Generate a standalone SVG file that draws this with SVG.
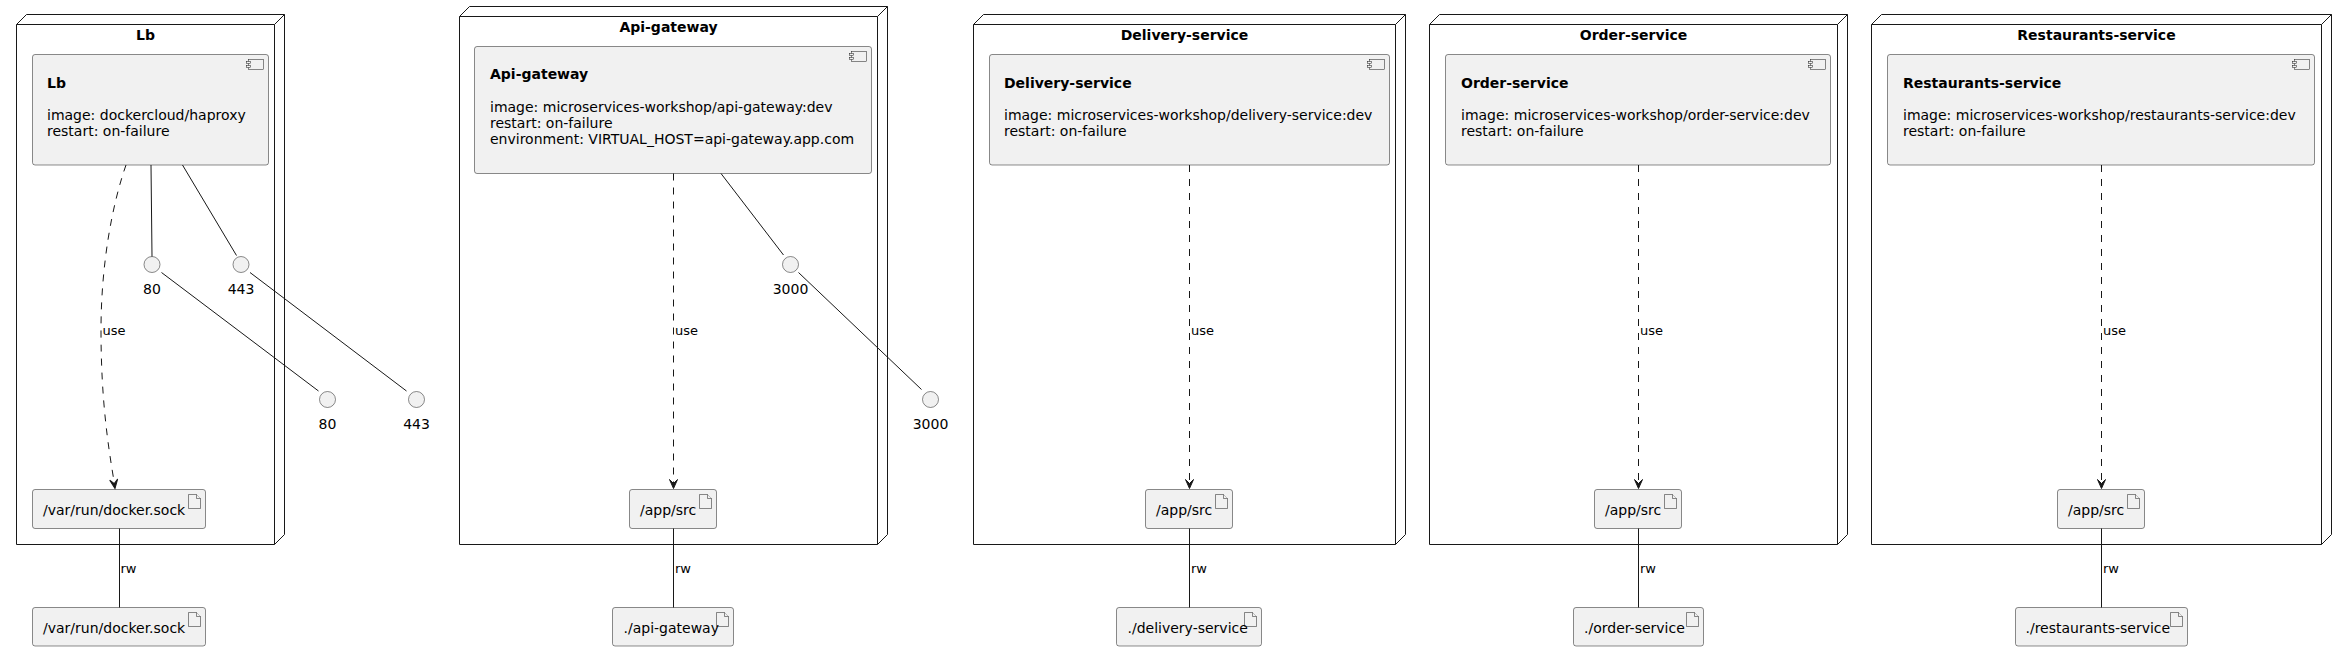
<svg xmlns="http://www.w3.org/2000/svg" width="2347" height="651" viewBox="0 0 2347 651">
<style>
text{font-family:"DejaVu Sans","Liberation Sans",sans-serif;fill:#000}
.t{font-size:14px}
.b{font-size:14px;font-weight:bold}
.lbl{font-size:13px}
.mid{text-anchor:middle}
.node{fill:none;stroke:#181818;stroke-width:1}
.comp{fill:#F1F1F1;stroke:#181818;stroke-width:0.5}
.icon{fill:#F1F1F1;stroke:#181818;stroke-width:0.5}
.art{fill:#F1F1F1;stroke:#181818;stroke-width:0.5}
.ifc{fill:#F1F1F1;stroke:#181818;stroke-width:0.5}
.ln{fill:none;stroke:#181818;stroke-width:1}
.dash{fill:none;stroke:#181818;stroke-width:1;stroke-dasharray:7,7}
.ah{fill:#181818;stroke:#181818;stroke-width:1}
</style>
<defs>
<g id="cicon"><rect class="icon" x="0" y="0" width="15" height="10"/><rect class="icon" x="-2" y="2" width="4" height="2"/><rect class="icon" x="-2" y="6" width="4" height="2"/></g>
<g id="aicon"><path class="icon" d="M0,0 L8,0 L12,4 L12,14 L0,14 Z"/><path class="icon" fill="none" d="M8,0 L8,4 L12,4"/></g>
</defs>

<g id="node-lb">
<polygon class="node" points="16.5,24.5 26.5,14.5 284.5,14.5 284.5,534.5 274.5,544.5 16.5,544.5"/>
<path class="node" d="M16.5,24.5 L274.5,24.5 L284.5,14.5 M274.5,24.5 L274.5,544.5"/>
<text class="b mid" x="145.5" y="39.5">Lb</text>
</g>
<g id="comp-lb">
<rect class="comp" x="32.5" y="54.5" width="236" height="110.5" rx="2.5"/>
<use href="#cicon" x="248.5" y="59.5"/>
<text class="b" x="47" y="87.5">Lb</text>
<text class="t" x="47" y="120">image: dockercloud/haproxy</text>
<text class="t" x="47" y="136">restart: on-failure</text>
</g>
<g id="if-lb-80"><circle class="ifc" cx="152" cy="264.5" r="8"/><text class="t mid" x="152" y="293.5">80</text></g>
<g id="if-lb-443"><circle class="ifc" cx="241" cy="264.5" r="8"/><text class="t mid" x="241" y="293.5">443</text></g>
<g id="if-80"><circle class="ifc" cx="327.5" cy="399.5" r="8"/><text class="t mid" x="327.5" y="428.5">80</text></g>
<g id="if-443"><circle class="ifc" cx="416.5" cy="399.5" r="8"/><text class="t mid" x="416.5" y="428.5">443</text></g>
<g id="art-lb-sock">
<rect class="art" x="32.5" y="489.5" width="173" height="39" rx="2.5"/>
<use href="#aicon" x="188.5" y="494.5"/>
<text class="t" x="43" y="515">/var/run/docker.sock</text>
</g>
<g id="art-host-sock">
<rect class="art" x="32.5" y="607.5" width="173" height="38.5" rx="2.5"/>
<use href="#aicon" x="188.5" y="612.5"/>
<text class="t" x="43" y="633">/var/run/docker.sock</text>
</g>

<g id="node-api">
<polygon class="node" points="459.5,16.5 469.5,6.5 887.5,6.5 887.5,534.5 877.5,544.5 459.5,544.5"/>
<path class="node" d="M459.5,16.5 L877.5,16.5 L887.5,6.5 M877.5,16.5 L877.5,544.5"/>
<text class="b mid" x="668.5" y="31.5">Api-gateway</text>
</g>
<g id="comp-api">
<rect class="comp" x="474.5" y="46.5" width="397" height="127" rx="2.5"/>
<use href="#cicon" x="851.5" y="51.5"/>
<text class="b" x="490" y="78.5">Api-gateway</text>
<text class="t" x="490" y="111.5">image: microservices-workshop/api-gateway:dev</text>
<text class="t" x="490" y="127.5">restart: on-failure</text>
<text class="t" x="490" y="143.5">environment: VIRTUAL_HOST=api-gateway.app.com</text>
</g>
<g id="if-api-3000"><circle class="ifc" cx="790.5" cy="264.5" r="8"/><text class="t mid" x="790.5" y="293.5">3000</text></g>
<g id="if-3000"><circle class="ifc" cx="930.5" cy="399.5" r="8"/><text class="t mid" x="930.5" y="428.5">3000</text></g>
<g id="art-api-src">
<rect class="art" x="629.5" y="489.5" width="87" height="39" rx="2.5"/>
<use href="#aicon" x="699.5" y="494.5"/>
<text class="t" x="640" y="515">/app/src</text>
</g>
<g id="art-api-host">
<rect class="art" x="612.5" y="607.5" width="121" height="38.5" rx="2.5"/>
<use href="#aicon" x="716.5" y="612.5"/>
<text class="t" x="623.5" y="633">./api-gateway</text>
</g>

<g id="node-delivery">
<polygon class="node" points="973.5,24.5 983.5,14.5 1405.5,14.5 1405.5,534.5 1395.5,544.5 973.5,544.5"/>
<path class="node" d="M973.5,24.5 L1395.5,24.5 L1405.5,14.5 M1395.5,24.5 L1395.5,544.5"/>
<text class="b mid" x="1184.5" y="39.5">Delivery-service</text>
</g>
<g id="comp-delivery">
<rect class="comp" x="989.5" y="54.5" width="400" height="110.5" rx="2.5"/>
<use href="#cicon" x="1369.5" y="59.5"/>
<text class="b" x="1004" y="87.5">Delivery-service</text>
<text class="t" x="1004" y="120">image: microservices-workshop/delivery-service:dev</text>
<text class="t" x="1004" y="136">restart: on-failure</text>
</g>
<g id="art-delivery-src">
<rect class="art" x="1145.5" y="489.5" width="87" height="39" rx="2.5"/>
<use href="#aicon" x="1215.5" y="494.5"/>
<text class="t" x="1156" y="515">/app/src</text>
</g>
<g id="art-delivery-host">
<rect class="art" x="1116.5" y="607.5" width="145" height="38.5" rx="2.5"/>
<use href="#aicon" x="1244.5" y="612.5"/>
<text class="t" x="1127.5" y="633">./delivery-service</text>
</g>

<g id="node-order">
<polygon class="node" points="1429.5,24.5 1439.5,14.5 1847.5,14.5 1847.5,534.5 1837.5,544.5 1429.5,544.5"/>
<path class="node" d="M1429.5,24.5 L1837.5,24.5 L1847.5,14.5 M1837.5,24.5 L1837.5,544.5"/>
<text class="b mid" x="1633.5" y="39.5">Order-service</text>
</g>
<g id="comp-order">
<rect class="comp" x="1445.5" y="54.5" width="385" height="110.5" rx="2.5"/>
<use href="#cicon" x="1810.5" y="59.5"/>
<text class="b" x="1461" y="87.5">Order-service</text>
<text class="t" x="1461" y="120">image: microservices-workshop/order-service:dev</text>
<text class="t" x="1461" y="136">restart: on-failure</text>
</g>
<g id="art-order-src">
<rect class="art" x="1594.5" y="489.5" width="87" height="39" rx="2.5"/>
<use href="#aicon" x="1664.5" y="494.5"/>
<text class="t" x="1605" y="515">/app/src</text>
</g>
<g id="art-order-host">
<rect class="art" x="1573.5" y="607.5" width="130" height="38.5" rx="2.5"/>
<use href="#aicon" x="1686.5" y="612.5"/>
<text class="t" x="1584" y="633">./order-service</text>
</g>

<g id="node-restaurants">
<polygon class="node" points="1871.5,24.5 1881.5,14.5 2331.5,14.5 2331.5,534.5 2321.5,544.5 1871.5,544.5"/>
<path class="node" d="M1871.5,24.5 L2321.5,24.5 L2331.5,14.5 M2321.5,24.5 L2321.5,544.5"/>
<text class="b mid" x="2096.5" y="39.5">Restaurants-service</text>
</g>
<g id="comp-restaurants">
<rect class="comp" x="1887.5" y="54.5" width="427" height="110.5" rx="2.5"/>
<use href="#cicon" x="2294.5" y="59.5"/>
<text class="b" x="1903" y="87.5">Restaurants-service</text>
<text class="t" x="1903" y="120">image: microservices-workshop/restaurants-service:dev</text>
<text class="t" x="1903" y="136">restart: on-failure</text>
</g>
<g id="art-restaurants-src">
<rect class="art" x="2057.5" y="489.5" width="87" height="39" rx="2.5"/>
<use href="#aicon" x="2127.5" y="494.5"/>
<text class="t" x="2068" y="515">/app/src</text>
</g>
<g id="art-restaurants-host">
<rect class="art" x="2015.5" y="607.5" width="172" height="38.5" rx="2.5"/>
<use href="#aicon" x="2170.5" y="612.5"/>
<text class="t" x="2025.5" y="633">./restaurants-service</text>
</g>

<g id="connectors">
<!-- Lb -->
<path class="ln" d="M151,165 L152,256.5"/>
<path class="ln" d="M182.5,165 L236.5,255.5"/>
<path class="ln" d="M161.5,272.5 L318.5,391"/>
<path class="ln" d="M250,272.5 L406.5,391"/>
<path class="dash" d="M126,165 C112,205 101,265 101,330 C101,400 108,445 114.3,483"/>
<polygon class="ah" points="111,479.5 115,488.5 119,479.5 115,483.5" transform="rotate(-8.5 115 488.5)"/>
<text class="lbl" x="102.5" y="335">use</text>
<path class="ln" d="M119.5,528.5 L119.5,607.5"/>
<text class="lbl" x="120.5" y="572.5">rw</text>
<!-- Api -->
<path class="ln" d="M721,173.5 L783.5,255"/>
<path class="ln" d="M798.5,272.5 L921.5,389.5"/>
<path class="dash" d="M673.5,173.5 L673.5,483.5"/>
<polygon class="ah" points="669.5,479.5 673.5,488.5 677.5,479.5 673.5,483.5"/>
<text class="lbl" x="675" y="335">use</text>
<path class="ln" d="M673.5,528.5 L673.5,607.5"/>
<text class="lbl" x="675" y="572.5">rw</text>
<!-- Delivery -->
<path class="dash" d="M1189.5,165 L1189.5,483.5"/>
<polygon class="ah" points="1185.5,479.5 1189.5,488.5 1193.5,479.5 1189.5,483.5"/>
<text class="lbl" x="1191" y="335">use</text>
<path class="ln" d="M1189.5,528.5 L1189.5,607.5"/>
<text class="lbl" x="1191" y="572.5">rw</text>
<!-- Order -->
<path class="dash" d="M1638.5,165 L1638.5,483.5"/>
<polygon class="ah" points="1634.5,479.5 1638.5,488.5 1642.5,479.5 1638.5,483.5"/>
<text class="lbl" x="1640" y="335">use</text>
<path class="ln" d="M1638.5,528.5 L1638.5,607.5"/>
<text class="lbl" x="1640" y="572.5">rw</text>
<!-- Restaurants -->
<path class="dash" d="M2101.5,165 L2101.5,483.5"/>
<polygon class="ah" points="2097.5,479.5 2101.5,488.5 2105.5,479.5 2101.5,483.5"/>
<text class="lbl" x="2103" y="335">use</text>
<path class="ln" d="M2101.5,528.5 L2101.5,607.5"/>
<text class="lbl" x="2103" y="572.5">rw</text>
</g>
</svg>
